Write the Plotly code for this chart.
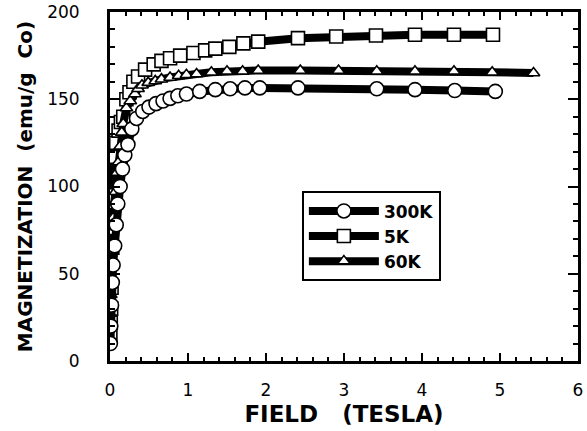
import plotly.graph_objects as go

# 300K (circles)
field_300K = [0.005, 0.01, 0.02, 0.03, 0.04, 0.06, 0.08, 0.10, 0.13, 0.16, 0.19, 0.23, 0.28, 0.34,
              0.42, 0.50, 0.59, 0.68, 0.77, 0.87, 0.98, 1.15, 1.35, 1.54, 1.73, 1.92, 2.41, 3.42,
              3.91, 4.42, 4.94]
mag_300K = [10, 20, 32, 45, 55, 66, 78, 90, 100, 110, 118, 124, 133, 139, 143, 145.5, 147.5, 149,
            150.5, 152, 153, 154.5, 155.5, 156, 156.5, 156.5, 156.5, 156, 155.5, 155, 154.5]

# 5K (squares)
field_5K = [0.005, 0.01, 0.015, 0.02, 0.03, 0.04, 0.05, 0.08, 0.11, 0.14, 0.17, 0.21, 0.25, 0.30,
            0.36, 0.45, 0.56, 0.66, 0.77, 0.90, 1.07, 1.22, 1.35, 1.53, 1.71, 1.90, 2.41, 2.90,
            3.41, 3.91, 4.41, 4.91]
mag_5K = [15, 22, 30, 42, 65, 95, 117, 125, 132, 137, 140, 150, 154, 160, 163, 167, 170, 172, 173.5,
          175, 176.5, 178, 179, 180, 182, 183, 185, 186, 186.5, 187, 187, 187]

# 60K (triangles)
field_60K = [0.005, 0.01, 0.015, 0.02, 0.03, 0.04, 0.05, 0.07, 0.09, 0.11, 0.13, 0.15, 0.17, 0.21,
             0.26, 0.32, 0.36, 0.41, 0.49, 0.58, 0.66, 0.77, 0.88, 0.98, 1.11, 1.30, 1.50, 1.70,
             1.90, 2.44, 2.93, 3.42, 3.91, 4.41, 4.90, 5.43]
mag_60K = [20, 38, 54, 63, 74, 82, 89, 97, 108, 114, 123, 131, 136, 145, 149, 153, 156, 158, 159.5,
           160.5, 161.5, 162.5, 163.5, 164, 164.5, 165.5, 166, 166, 166.5, 166.5, 166.5, 166, 166,
           166, 165.5, 165]

x_ticks = [0, 1, 2, 3, 4, 5, 6]
y_ticks = [0, 50, 100, 150, 200]

TITLE_FONT = "DejaVu Sans, Liberation Sans, sans-serif"
TICK_FONT = "DejaVu Sans, Liberation Sans, sans-serif"

series = [
    ("5K", field_5K, mag_5K, "square", 13),
    ("60K", field_60K, mag_60K, "triangle-up", 11),
    ("300K", field_300K, mag_300K, "circle", 14),
]
legend_order = {"300K": 1, "5K": 2, "60K": 3}

fig = go.Figure()
for name, xs, ys, sym, size in series:
    fig.add_trace(go.Scatter(
        x=xs, y=ys, name=name, mode="lines+markers",
        line=dict(color="black", width=8),
        marker=dict(symbol=sym, size=size, color="white",
                    line=dict(color="black", width=1.6)),
        legendrank=legend_order[name],
    ))

axis_common = dict(
    showline=True, linecolor="black", linewidth=3, mirror="ticks",
    ticks="inside", tickcolor="black", tickwidth=2,
    showgrid=False, zeroline=False, automargin=False,
    tickfont=dict(family=TICK_FONT, size=17, color="black"),
)

fig.update_xaxes(
    range=[0, 6], tickvals=x_ticks, ticklen=8,
    minor=dict(dtick=0.2, ticks="inside", ticklen=4, tickcolor="black", tickwidth=2, showgrid=False),
    ticklabelstandoff=12,
    title=dict(text="<b>FIELD\u00a0\u00a0 (TESLA)</b>",
               font=dict(family=TITLE_FONT, size=23, color="black"), standoff=7),
    **axis_common,
)
fig.update_yaxes(
    range=[0, 200], tickvals=y_ticks, ticklen=10,
    minor=dict(dtick=10, ticks="inside", ticklen=5, tickcolor="black", tickwidth=2, showgrid=False),
    ticklabelstandoff=24,
    title=dict(text="<b>MAGNETIZATION\u00a0 (emu/g\u00a0 Co)</b>",
               font=dict(family=TITLE_FONT, size=20, color="black"), standoff=10),
    **axis_common,
)

fig.update_layout(
    width=587, height=431,
    margin=dict(l=110, r=9, t=12, b=70),
    paper_bgcolor="white", plot_bgcolor="white",
    showlegend=True,
    legend=dict(
        x=0.41, y=0.486, xanchor="left", yanchor="top",
        bordercolor="black", borderwidth=2, bgcolor="white",
        font=dict(family=TITLE_FONT, size=17, color="black", weight="bold"),
        itemwidth=70, tracegroupgap=0,
    ),
)

fig.write_html("out.html")
